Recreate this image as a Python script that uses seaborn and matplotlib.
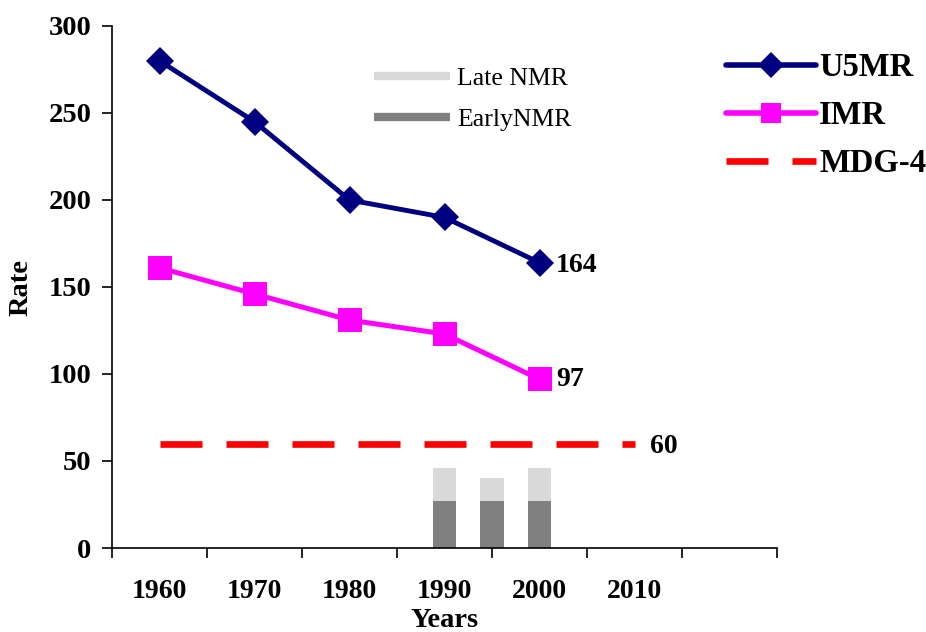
import matplotlib
matplotlib.use("Agg")
import matplotlib.pyplot as plt
from matplotlib.lines import Line2D
import seaborn as sns
import numpy as np

# ---- data ----
years = [1960, 1970, 1980, 1990, 2000]
u5mr = [280, 245, 200, 190, 164]
imr = [161, 146, 131, 123, 97]
mdg_years = [1960, 2010]
mdg_value = [60, 60]
bar_years = [1990, 1995, 2000]
early_nmr = [27, 27, 27]
late_nmr = [19, 13, 19]
tick_years = [1960, 1970, 1980, 1990, 2000, 2010]
tick_labels = ["1960", "1970", "1980", "1990", "2000", "2010"]
y_ticks = [0, 50, 100, 150, 200, 250, 300]

sns.set_theme(style="white")
plt.rcParams["font.family"] = ["Liberation Serif", "DejaVu Serif"]
plt.rcParams.update({"text.color": "black", "axes.labelcolor": "black",
                     "xtick.color": "black", "ytick.color": "black"})

fig = plt.figure(figsize=(9.26, 6.32), dpi=100)
ax = fig.add_axes([112 / 926, 1 - 548 / 632, 665 / 926, 522 / 632])

total_nmr = [e + l for e, l in zip(early_nmr, late_nmr)]

# stacked bars (late on top of early)
sns.barplot(x=bar_years, y=total_nmr, native_scale=True, color="#d9d9d9",
            saturation=1, width=0.5, errorbar=None, edgecolor="none", ax=ax, zorder=2)
sns.barplot(x=bar_years, y=early_nmr, native_scale=True, color="#808080",
            saturation=1, width=0.5, errorbar=None, edgecolor="none", ax=ax, zorder=2)

# MDG-4 target line
ax.plot(mdg_years, mdg_value, color="#ff0000", linewidth=4.8,
        dashes=(6.3, 3.6), solid_capstyle="butt", dash_capstyle="butt", zorder=3)

# lines
sns.lineplot(x=years, y=u5mr, color="#000080", linewidth=3.5, marker="D",
             markersize=14, markeredgewidth=0, ax=ax, zorder=4)
sns.lineplot(x=years, y=imr, color="#ff00ff", linewidth=3.6, marker="s",
             markersize=17, markeredgewidth=0, ax=ax, zorder=4)

# end labels
lab_kw = dict(textcoords="offset points", va="center_baseline", ha="left",
              fontsize=20, fontweight="bold", color="black")
ax.annotate(str(u5mr[-1]), (years[-1], u5mr[-1]), xytext=(12, 0), **lab_kw)
ax.annotate(str(imr[-1]), (years[-1], imr[-1]), xytext=(12, 2), **lab_kw)
ax.annotate(str(mdg_value[-1]), (mdg_years[-1], mdg_value[-1]), xytext=(11, 0), **lab_kw)

# axes
ax.set_xlim(1955, 2025)
ax.set_ylim(0, 300)
for s in ["top", "right"]:
    ax.spines[s].set_visible(False)
for s in ["left", "bottom"]:
    ax.spines[s].set_color("black")
    ax.spines[s].set_linewidth(1.2)

ax.set_xticks(np.arange(1955, 2026, 10))
ax.set_xticklabels([])
ax.set_xticks(tick_years, minor=True)
ax.set_xticklabels(tick_labels, minor=True, fontsize=20, fontweight="bold")
ax.tick_params(axis="x", which="major", direction="out", length=7, width=1.2,
               color="black", bottom=True)
ax.tick_params(axis="x", which="minor", length=0, pad=22, bottom=True)

ax.set_yticks(y_ticks)
ax.set_yticklabels([str(v) for v in y_ticks], fontsize=20.5, fontweight="bold")
ax.tick_params(axis="y", direction="out", length=7, width=1.2, color="black",
               pad=8, left=True)

ax.set_xlabel("Years", fontsize=20.5, fontweight="bold")
ax.xaxis.set_label_coords(0.5, -0.114)
ax.set_ylabel("Rate", fontsize=20.5, fontweight="bold")
ax.yaxis.set_label_coords(-0.118, 0.5)
ax.grid(False)

# legends
h1 = [Line2D([], [], color="#d9d9d9", linewidth=6, solid_capstyle="butt"),
      Line2D([], [], color="#808080", linewidth=6, solid_capstyle="butt")]
leg1 = fig.legend(h1, ["Late NMR", "EarlyNMR"], loc="upper left",
                  bbox_to_anchor=(374 / 926, 1 - 67 / 632), frameon=False,
                  borderpad=0, borderaxespad=0, handlelength=2.96,
                  handletextpad=0.27, labelspacing=0.72,
                  prop={"family": "Liberation Serif", "size": 18.5})

h2 = [Line2D([], [], color="#000080", linewidth=4, marker="D", markersize=13,
             markeredgewidth=0),
      Line2D([], [], color="#ff00ff", linewidth=4, marker="s", markersize=15,
             markeredgewidth=0),
      Line2D([], [], color="#ff0000", linewidth=4.8, dashes=(6.3, 3.6),
             dash_capstyle="butt")]
leg2 = fig.legend(h2, ["U5MR", "IMR", "MDG-4"], loc="upper left",
                  bbox_to_anchor=(726 / 926, 1 - 52 / 632), frameon=False,
                  borderpad=0, borderaxespad=0, handlelength=2.75,
                  handletextpad=0.1, labelspacing=0.52,
                  prop={"family": "Liberation Serif", "size": 23.5, "weight": "bold"})

fig.savefig("out.png", dpi=100)
